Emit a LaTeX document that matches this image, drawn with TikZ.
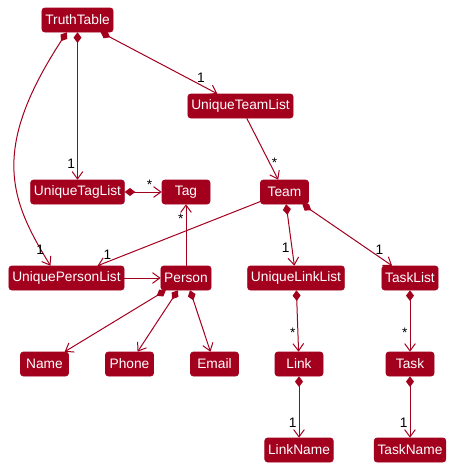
\documentclass[tikz,border=0pt]{standalone}
\usepackage{fontspec}
\setmainfont{Liberation Sans}
\usepackage{xcolor}
\usepackage{tikz}
\usetikzlibrary{arrows.meta}
\definecolor{umlred}{HTML}{A3001E}

\begin{document}
\begin{tikzpicture}[x=0.75pt, y=-0.75pt, font=\fontsize{10.3}{12}\selectfont,
        cls/.style={rounded corners=2pt, fill=umlred, draw=umlred, text=white,
          minimum height=18pt, minimum width=36pt, inner xsep=2.5pt},
        assoc/.style={-{Straight Barb[length=5.5pt,width=8pt]}, draw=umlred, line width=0.75pt},
        comp/.style={{Diamond[length=8pt,width=6pt]}-{Straight Barb[length=5.5pt,width=8pt]},
          draw=umlred, line width=0.75pt},
        mult/.style={text=black, inner sep=1.5pt}]
        \useasboundingbox (0,0) rectangle (453,468);
        \node[cls] (truth) at (77.5,20) {TruthTable};
        \node[cls] (teamlist) at (240.5,106) {UniqueTeamList};
        \node[cls] (taglist) at (77.5,192) {UniqueTagList};
        \node[cls] (tag) at (186,192) {Tag};
        \node[cls] (team) at (284.5,192) {Team};
        \node[cls] (personlist) at (66.5,278) {UniquePersonList};
        \node[cls] (person) at (186,278) {Person};
        \node[cls] (linklist) at (296,278) {UniqueLinkList};
        \node[cls] (tasklist) at (410,278) {TaskList};
        \node[cls] (name) at (44.5,364) {Name};
        \node[cls] (phone) at (129.5,364) {Phone};
        \node[cls] (email) at (214.5,364) {Email};
        \node[cls] (link) at (299,364) {Link};
        \node[cls] (task) at (410,364) {Task};
        \node[cls] (linkname) at (299,450) {LinkName};
        \node[cls] (taskname) at (410,450) {TaskName};
        \draw[comp] (truth) -- node[mult, pos=.86, above] {1} (teamlist);
        \draw[comp] (truth) -- node[mult, pos=.89, left] {1} (taglist);
        \draw[comp] ([xshift=-8pt]truth.south) .. controls (-10,150) and (10,200) ..
          node[mult, pos=.92, left=-4pt] {1} ([xshift=-12pt]personlist.north);
        \draw[comp] (taglist) -- node[mult, pos=.67, above] {*} (tag);
        \draw[assoc] (person) -- node[mult, pos=.76, left] {*} (tag);
        \draw[assoc] (teamlist) -- node[mult, pos=.72, right] {*} (team);
        \draw[assoc] (team) -- node[mult, pos=.94, above] {1} (personlist);
        \draw[comp] (team) -- node[mult, pos=.71, left] {1} (linklist);
        \draw[comp] (team) -- node[mult, pos=.86, above] {1} (tasklist);
        \draw[assoc] (personlist) -- (person);
        \draw[comp] (person) -- (name);
        \draw[comp] (person) -- (phone);
        \draw[comp] (person) -- (email);
        \draw[comp] (linklist) -- node[mult, pos=.69, left] {*} (link);
        \draw[comp] (tasklist) -- node[mult, pos=.69, left] {*} (task);
        \draw[comp] (link) -- node[mult, pos=.75, left] {1} (linkname);
        \draw[comp] (task) -- node[mult, pos=.75, left] {1} (taskname);
      \end{tikzpicture}
\end{document}
